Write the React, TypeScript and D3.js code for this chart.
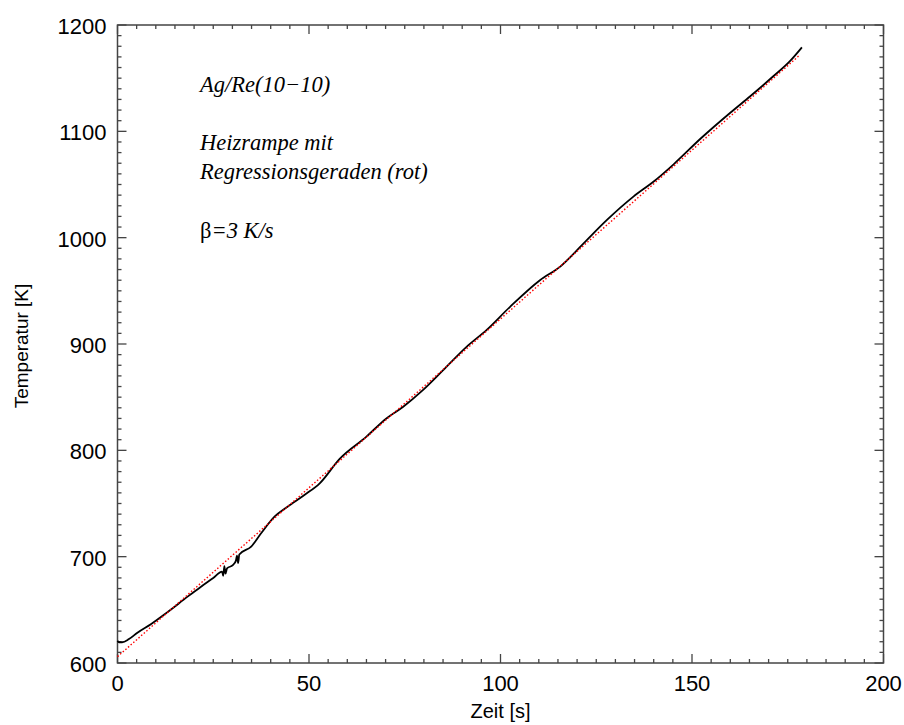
import * as d3 from "d3";

// measured heating ramp: time [s] and temperature [K]
const zeit = [0, 0.4, 1.2, 3, 5.2, 8.7, 13.1, 18.3, 21.8, 25, 27.3, 27.6, 27.9, 28.2, 28.6, 30.1, 30.9, 31.2, 31.5, 31.8, 34.9, 37.5, 41, 44.4, 48.8, 52.8, 58, 65, 70.2, 74.6, 79.8, 85.1, 91.2, 96.4, 102.5, 110.3, 115.6, 121.7, 127.8, 134.7, 140, 145.2, 152.2, 160, 165.2, 171.3, 175.7, 178.7];
const temp = [621, 619.5, 619.5, 622.5, 628.5, 636.5, 648, 662.4, 671.8, 680, 686, 682, 691, 684, 689, 692, 696, 701, 694, 702, 709.4, 722, 737.6, 747, 758, 769, 792, 812.9, 830, 841, 856.8, 875.6, 897.5, 913.3, 935, 960, 972.8, 994.7, 1016.7, 1038.6, 1052.8, 1069, 1093, 1117.5, 1133, 1152, 1166.5, 1179];

// regression line (red)
const regT = [0, 177.9];
const regK = [606, 1171];

const xTicks = [0, 50, 100, 150, 200];
const yTicks = [600, 700, 800, 900, 1000, 1100, 1200];

const notes = ["Ag/Re(10\u221210)", "Heizrampe mit", "Regressionsgeraden (rot)"];

const W = 904;
const H = 725;
const left = 117.5, right = 883.5, top = 25, bottom = 663;

export default function App() {
  const x = d3.scaleLinear().domain([0, 200]).range([left, right]);
  const y = d3.scaleLinear().domain([600, 1200]).range([bottom, top]);

  const line = d3.line<number>().x((d, i) => x(zeit[i])).y((d) => y(d)).curve(d3.curveMonotoneX);
  const reg = d3.line<number>().x((d, i) => x(regT[i])).y((d) => y(d));

  const xMinor = d3.range(0, 201, 5);
  const yMinor = d3.range(600, 1201, 10);
  const axisColor = "#444";
  const sans = "'Liberation Sans', Arial, Helvetica, sans-serif";
  const serif = "'Liberation Serif', 'Times New Roman', serif";

  return (
    <svg width={W} height={H} style={{ position: "absolute", left: 0, top: 0, background: "#fff" }}>
      <rect x={0} y={0} width={W} height={H} fill="#fff" />

      {/* ticks */}
      <g stroke={axisColor} strokeWidth={1.3}>
        {xMinor.map((v) => {
          const len = v % 50 === 0 ? 9 : 4;
          return (
            <g key={"x" + v}>
              <line x1={x(v)} x2={x(v)} y1={bottom} y2={bottom - len} />
              <line x1={x(v)} x2={x(v)} y1={top} y2={top + len} />
            </g>
          );
        })}
        {yMinor.map((v) => {
          const len = v % 100 === 0 ? 9 : 4;
          return (
            <g key={"y" + v}>
              <line x1={left} x2={left + len} y1={y(v)} y2={y(v)} />
              <line x1={right} x2={right - len} y1={y(v)} y2={y(v)} />
            </g>
          );
        })}
      </g>
      <rect x={left} y={top} width={right - left} height={bottom - top} fill="none" stroke={axisColor} strokeWidth={1.5} />

      {/* tick labels */}
      <g fontFamily={sans} fontSize={22} fill="#000">
        {xTicks.map((v) => (
          <text key={v} x={x(v)} y={bottom + 28} textAnchor="middle">{v}</text>
        ))}
        {yTicks.map((v) => (
          <text key={v} x={left - 11} y={y(v) + 9} textAnchor="end">{v}</text>
        ))}
      </g>

      {/* axis titles */}
      <text x={x(100)} y={718} textAnchor="middle" fontFamily={sans} fontSize={20}>Zeit [s]</text>
      <text transform="translate(28,346) rotate(-90)" textAnchor="middle" fontFamily={sans} fontSize={19}>Temperatur [K]</text>

      {/* data */}
      <path d={line(temp) ?? ""} fill="none" stroke="#000" strokeWidth={1.8} strokeLinejoin="round" />
      <path d={reg(regK) ?? ""} fill="none" stroke="#f00" strokeWidth={1.4} strokeDasharray="1.5,2" />

      {/* annotations */}
      <g fontFamily={serif} fontStyle="italic" fontSize={22.5} fill="#000">
        <text x={200} y={92}>{notes[0]}</text>
        <text x={200} y={150}>{notes[1]}</text>
        <text x={200} y={179}>{notes[2]}</text>
        <text x={200} y={238}>
          <tspan fontStyle="normal">{"\u03b2"}</tspan>
          <tspan>=3 K/s</tspan>
        </text>
      </g>
    </svg>
  );
}
